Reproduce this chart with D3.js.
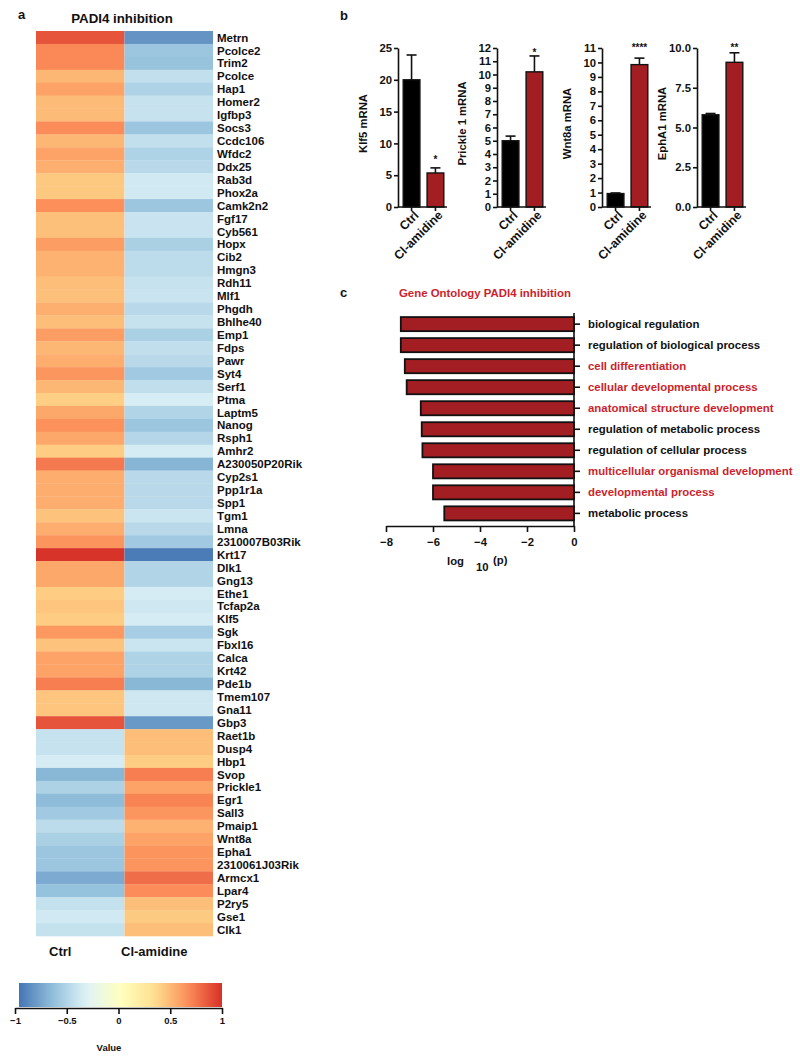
<!DOCTYPE html>
<html>
<head>
<meta charset="utf-8">
<script src="https://cdn.jsdelivr.net/npm/d3@7"></script>
<style>
  html, body { margin: 0; padding: 0; background: #fff; }
  svg { display: block; }
  text { font-family: "Liberation Sans", Arial, Helvetica, sans-serif; font-weight: bold; }
</style>
</head>
<body>
<svg id="chart" width="800" height="1059"></svg>
<script>
// ---------------- DATA ----------------
const genes = ["Metrn","Pcolce2","Trim2","Pcolce","Hap1","Homer2","Igfbp3","Socs3","Ccdc106","Wfdc2",
  "Ddx25","Rab3d","Phox2a","Camk2n2","Fgf17","Cyb561","Hopx","Cib2","Hmgn3","Rdh11",
  "Mlf1","Phgdh","Bhlhe40","Emp1","Fdps","Pawr","Syt4","Serf1","Ptma","Laptm5",
  "Nanog","Rsph1","Amhr2","A230050P20Rik","Cyp2s1","Ppp1r1a","Spp1","Tgm1","Lmna","2310007B03Rik",
  "Krt17","Dlk1","Gng13","Ethe1","Tcfap2a","Klf5","Sgk","Fbxl16","Calca","Krt42",
  "Pde1b","Tmem107","Gna11","Gbp3","Raet1b","Dusp4","Hbp1","Svop","Prickle1","Egr1",
  "Sall3","Pmaip1","Wnt8a","Epha1","2310061J03Rik","Armcx1","Lpar4","P2ry5","Gse1","Clk1"];
const heatColumns = ["Ctrl", "Cl-amidine"];
const ctrlValues = [0.87,0.68,0.68,0.5,0.58,0.48,0.48,0.67,0.5,0.58,
  0.53,0.43,0.43,0.66,0.46,0.46,0.6,0.52,0.52,0.47,
  0.46,0.53,0.47,0.6,0.5,0.54,0.63,0.5,0.4,0.56,
  0.65,0.56,0.41,0.74,0.54,0.54,0.54,0.45,0.54,0.64,
  0.99,0.56,0.56,0.41,0.44,0.41,0.62,0.45,0.58,0.58,
  0.72,0.44,0.44,0.87,-0.44,-0.44,-0.38,-0.7,-0.55,-0.68,
  -0.6,-0.48,-0.56,-0.62,-0.62,-0.76,-0.65,-0.45,-0.4,-0.45];
const clValues = [-0.86,-0.62,-0.64,-0.46,-0.54,-0.44,-0.44,-0.62,-0.46,-0.54,
  -0.5,-0.4,-0.4,-0.62,-0.43,-0.43,-0.56,-0.48,-0.48,-0.44,
  -0.43,-0.5,-0.44,-0.56,-0.47,-0.5,-0.6,-0.47,-0.37,-0.53,
  -0.62,-0.52,-0.38,-0.71,-0.5,-0.5,-0.5,-0.42,-0.5,-0.6,
  -0.97,-0.53,-0.53,-0.38,-0.41,-0.38,-0.58,-0.42,-0.54,-0.54,
  -0.7,-0.41,-0.41,-0.84,0.47,0.47,0.41,0.72,0.58,0.7,
  0.63,0.52,0.58,0.64,0.64,0.78,0.67,0.47,0.42,0.47];
const legendTicks = [-1, -0.5, 0, 0.5, 1];
const paletteColors = ["#4575B4","#91BFDB","#E0F3F8","#FFFFBF","#FEE090","#FC8D59","#D73027"];

const qpcrLabels = ["Klf5 mRNA", "Prickle 1 mRNA", "Wnt8a mRNA", "EphA1 mRNA"];
const qpcrGroups = ["Ctrl", "Cl-amidine"];
const qpcrCtrlMean = [20.0, 5.0, 0.93, 5.8];
const qpcrCtrlSem  = [3.9, 0.35, 0.04, 0.08];
const qpcrClMean   = [5.35, 10.2, 9.85, 9.1];
const qpcrClSem    = [0.8, 1.2, 0.45, 0.6];
const qpcrMax      = [25, 12, 11, 10];
const qpcrTicks = [[0,5,10,15,20,25],[0,1,2,3,4,5,6,7,8,9,10,11,12],[0,1,2,3,4,5,6,7,8,9,10,11],[0,2.5,5,7.5,10]];
const qpcrStars = ["*", "*", "****", "**"];
const qpcrStarLevel = [6.9, 11.4, 10.8, 9.8];

const goTerms = ["biological regulation","regulation of biological process","cell differentiation",
  "cellular developmental process","anatomical structure development","regulation of metabolic process",
  "regulation of cellular process","multicellular organismal development","developmental process","metabolic process"];
const goLogP = [-7.37, -7.37, -7.2, -7.12, -6.52, -6.48, -6.45, -6.0, -6.0, -5.52];
const goHighlight = [false, false, true, true, true, false, false, true, true, false];
const goTicks = [-8, -6, -4, -2, 0];

// ---------------- STYLE ----------------
const RED_BAR = "#a31e23";
const RED_TEXT = "#cc1f2d";
const INK = "#111";
const svg = d3.select("#chart");
function styleAxisText(sel, size) {
  sel.selectAll("text").style("font-size", size).style("font-family", "Liberation Sans, Arial, sans-serif")
    .style("font-weight", "bold").style("fill", INK);
}
function styleAxisLines(sel) {
  sel.select(".domain").attr("stroke", INK).attr("stroke-width", 1.6);
  sel.selectAll(".tick line").attr("stroke", INK).attr("stroke-width", 1.6);
}
function label(x, y, txt, size, extra) {
  const t = svg.append("text").attr("x", x).attr("y", y).style("font-size", size).style("fill", INK).text(txt);
  return t;
}

// ---------------- PANEL A: HEATMAP ----------------
label(18, 19, "a", "13px");
label(122, 23, "PADI4 inhibition", "13.3px").attr("text-anchor", "middle");

const color = d3.scaleLinear()
  .domain(d3.range(paletteColors.length).map(i => -1 + 2 * i / (paletteColors.length - 1)))
  .range(paletteColors).interpolate(d3.interpolateRgb).clamp(true);

const hx = d3.scaleBand().domain(heatColumns).range([36, 213]);
const hy = d3.scaleBand().domain(genes).range([31, 936]);
const cells = [];
genes.forEach((g, i) => {
  cells.push({ gene: g, col: heatColumns[0], v: ctrlValues[i] });
  cells.push({ gene: g, col: heatColumns[1], v: clValues[i] });
});
svg.append("g").selectAll("rect").data(cells).join("rect")
  .attr("x", d => hx(d.col)).attr("y", d => hy(d.gene))
  .attr("width", hx.bandwidth()).attr("height", hy.bandwidth() + 0.3)
  .attr("fill", d => color(d.v));

svg.append("g").selectAll("text").data(genes).join("text")
  .attr("x", 217).attr("y", d => hy(d) + hy.bandwidth() / 2).attr("dy", "0.36em")
  .style("font-size", "11.5px").style("fill", INK).text(d => d);

const colLabelOffset = [-20, -14.5];
svg.append("g").selectAll("text").data(heatColumns).join("text")
  .attr("x", (d, i) => hx(d) + hx.bandwidth() / 2 + colLabelOffset[i]).attr("y", 956)
  .attr("text-anchor", "middle").style("font-size", "13px").style("fill", INK).text(d => d);

// Legend
const defs = svg.append("defs");
const grad = defs.append("linearGradient").attr("id", "lg").attr("x1", "0%").attr("x2", "100%");
d3.range(0, 1.0001, 0.05).forEach(t => {
  grad.append("stop").attr("offset", (t * 100) + "%").attr("stop-color", color(-1 + 2 * t));
});
const lx = d3.scaleLinear().domain([-1, 1]).range([15, 222]);
svg.append("rect").attr("x", 19).attr("y", 983).attr("width", 222 - 19).attr("height", 24)
  .attr("fill", "url(#lg)");
const lAxis = svg.append("g").attr("transform", "translate(0,1008)")
  .call(d3.axisBottom(lx).tickValues(legendTicks).tickFormat(d3.format("")).tickSize(6).tickSizeOuter(0).tickPadding(3));
styleAxisLines(lAxis);
styleAxisText(lAxis, "9.5px");
label(109, 1051, "Value", "9.5px").attr("text-anchor", "middle");

// ---------------- PANEL B: qPCR BARS ----------------
label(340, 20, "b", "13px");
const axisXs = [398, 497, 602, 697];
const plotTop = 48, plotBottom = 207;

qpcrLabels.forEach((lab, i) => {
  const x0 = axisXs[i];
  const g = svg.append("g");
  const y = d3.scaleLinear().domain([0, qpcrMax[i]]).range([plotBottom, plotTop]);
  const x = d3.scaleBand().domain(qpcrGroups).range([x0 + 4, x0 + 47]).paddingInner(0.3).paddingOuter(0.05);
  const means = [qpcrCtrlMean[i], qpcrClMean[i]];
  const sems = [qpcrCtrlSem[i], qpcrClSem[i]];
  const fmt = i === 3 ? d3.format(".1f") : d3.format("d");

  qpcrGroups.forEach((grp, j) => {
    const cx = x(grp) + x.bandwidth() / 2;
    g.append("line").attr("x1", cx).attr("x2", cx).attr("y1", y(means[j])).attr("y2", y(means[j] + sems[j]))
      .attr("stroke", INK).attr("stroke-width", 1.6);
    g.append("line").attr("x1", cx - 5).attr("x2", cx + 5).attr("y1", y(means[j] + sems[j])).attr("y2", y(means[j] + sems[j]))
      .attr("stroke", INK).attr("stroke-width", 1.6);
  });
  g.selectAll("rect").data(qpcrGroups).join("rect")
    .attr("x", d => x(d)).attr("width", x.bandwidth())
    .attr("y", (d, j) => y(means[j])).attr("height", (d, j) => plotBottom - y(means[j]))
    .attr("fill", (d, j) => j === 0 ? "#000" : RED_BAR)
    .attr("stroke", INK).attr("stroke-width", 1.4);

  const ya = g.append("g").attr("transform", `translate(${x0},0)`)
    .call(d3.axisLeft(y).tickValues(qpcrTicks[i]).tickFormat(fmt).tickSize(4).tickSizeOuter(0).tickPadding(2));
  styleAxisLines(ya);
  styleAxisText(ya, "11.3px");

  const xa = g.append("g").attr("transform", `translate(0,${plotBottom})`)
    .call(d3.axisBottom(x).tickSize(4).tickSizeOuter(0).tickFormat(""));
  styleAxisLines(xa);
  xa.select(".domain").attr("d", `M${x0},0H${x0 + 49}`);
  g.selectAll(".xlab").data(qpcrGroups).join("text").attr("class", "xlab")
    .attr("transform", d => `translate(${x(d) + x.bandwidth() / 2 + 1},${plotBottom + 2}) rotate(-45)`)
    .attr("text-anchor", "end").attr("dy", "0.8em")
    .style("font-size", "12.3px").style("fill", INK).text(d => d);

  g.append("text").attr("transform", `translate(${x0 - 31},${(plotTop + plotBottom) / 2 - 4}) rotate(-90)`)
    .attr("text-anchor", "middle").style("font-size", "11.3px").style("fill", INK).text(lab);

  g.append("text").attr("x", x(qpcrGroups[1]) + x.bandwidth() / 2).attr("y", y(qpcrStarLevel[i]))
    .attr("text-anchor", "middle").style("font-size", "10px").style("fill", INK).text(qpcrStars[i]);
});

// ---------------- PANEL C: GO ----------------
label(340, 297, "c", "13px");
label(399, 296.5, "Gene Ontology PADI4 inhibition", "11.4px").style("fill", RED_TEXT);

const gx = d3.scaleLinear().domain([-8, 0]).range([386, 574]);
const gy = d3.scaleBand().domain(goTerms).range([313.5, 524]).paddingInner(0.33).paddingOuter(0.17);
const gc = svg.append("g");
gc.selectAll("rect").data(goTerms).join("rect")
  .attr("x", (d, i) => gx(goLogP[i])).attr("width", (d, i) => gx(0) - gx(goLogP[i]))
  .attr("y", d => gy(d)).attr("height", gy.bandwidth())
  .attr("fill", RED_BAR).attr("stroke", INK).attr("stroke-width", 1.8);

const gya = gc.append("g").attr("transform", `translate(${gx(0)},0)`)
  .call(d3.axisRight(gy).tickSize(6).tickSizeOuter(0).tickPadding(8));
styleAxisLines(gya);
gya.select(".domain").attr("d", "M0,313V526");
styleAxisText(gya, "11.4px");
gya.selectAll("text").style("fill", (d, i) => goHighlight[i] ? RED_TEXT : INK).attr("dy", "0.36em");

const gxa = gc.append("g").attr("transform", "translate(0,526)")
  .call(d3.axisBottom(gx).tickValues(goTicks).tickFormat(d3.format("d")).tickSize(6).tickSizeOuter(0).tickPadding(6));
styleAxisLines(gxa);
styleAxisText(gxa, "11.3px");

label(447, 565, "log", "11.3px");
label(476, 571, "10", "11.3px");
label(493, 564, "(p)", "11.3px");
</script>
</body>
</html>
